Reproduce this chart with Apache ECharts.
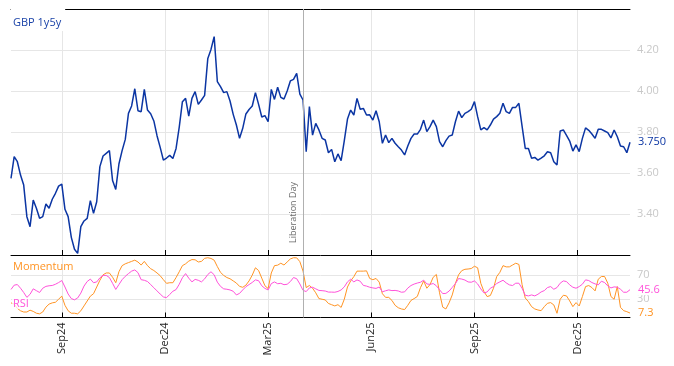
<!DOCTYPE html>
<html><head><meta charset="utf-8">
<script src="https://cdn.jsdelivr.net/npm/echarts@6/dist/echarts.min.js"></script>
<style>html,body{margin:0;padding:0;background:#fff}#c{width:674px;height:366px}</style>
</head><body><div id="c"></div>
<script>
// ---- data ----
const startDate = '2024-07-18';      // first business day plotted
const sampleStep = 2;                // business days between readings
const seriesName = 'GBP 1y5y';
const gbp1y5y = [3.574,3.680,3.655,3.590,3.541,3.387,3.338,3.468,3.428,3.379,
 3.387,3.449,3.428,3.472,3.501,3.536,3.546,3.423,3.387,3.286,
 3.228,3.208,3.338,3.366,3.379,3.465,3.403,3.460,3.631,3.683,
 3.696,3.709,3.563,3.520,3.644,3.709,3.764,3.891,3.927,4.011,
 3.904,3.899,4.008,3.907,3.889,3.854,3.782,3.725,3.663,3.673,
 3.686,3.671,3.720,3.824,3.948,3.964,3.878,3.964,3.997,3.935,
 3.956,3.979,4.159,4.203,4.265,4.046,4.021,3.992,3.997,3.951,
 3.886,3.834,3.769,3.818,3.888,3.910,3.927,3.992,3.935,3.873,
 3.880,3.850,4.008,3.959,4.018,3.969,3.961,4.000,4.049,4.057,
 4.086,3.985,3.956,3.704,3.924,3.785,3.842,3.810,3.769,3.761,
 3.699,3.715,3.655,3.693,3.660,3.758,3.863,3.907,3.883,3.964,
 3.911,3.915,3.883,3.884,3.858,3.904,3.850,3.745,3.785,3.748,
 3.769,3.745,3.728,3.712,3.688,3.732,3.769,3.790,3.790,3.813,
 3.858,3.802,3.826,3.858,3.826,3.753,3.728,3.758,3.780,3.785,
 3.850,3.902,3.870,3.891,3.899,3.911,3.948,3.875,3.810,3.821,
 3.810,3.834,3.863,3.875,3.891,3.940,3.899,3.891,3.920,3.920,
 3.940,3.829,3.720,3.720,3.672,3.676,3.663,3.673,3.684,3.704,
 3.699,3.655,3.639,3.805,3.810,3.784,3.756,3.707,3.737,3.704,
 3.769,3.820,3.808,3.790,3.769,3.813,3.813,3.805,3.797,3.771,
 3.810,3.777,3.732,3.728,3.699,3.750];
const momentum = [24,22,15,11,9,9,12,10,7,6,
 9,17,22,24,25,30,35,20,11,7,
 7,6,11,19,27,35,39,50,61,70,
 73,73,66,57,75,85,88,90,92,94,
 91,86,92,85,80,77,73,68.5,62,56,
 57,57,65.5,75,85,88,92.4,95,94.6,91,
 92,97,98,96.8,94,83.5,74,69,65.5,63.5,
 60,56.5,51,49.5,53,60,69.5,81.5,77,64.5,
 52,47.5,73,85,85.8,89,86,91,96,98,
 97.8,91.5,76,49,52.5,48,40.5,31,29.9,28.8,
 23,21,19,21,16.5,30,50,60,67,76,
 76,76,76.5,64,62,64,58,39,33,33,
 28,20,16,14,13,20,28,31,34.5,49,
 60,48,54,66,70.5,40.5,17,14,24,37,
 56,70,76.8,79,79.5,80.3,84,81.5,56,42.5,
 34.3,36,48,67,74,85,83,83,86,89,
 87,54,32,26,17.8,14,12.3,11.2,17.8,23.3,
 24.4,20.6,6.9,29.9,36.5,35.4,27.2,17.8,24.4,18.9,
 34.3,50.7,52.4,49.1,43.6,62.8,67.2,67.2,56.2,34.3,
 29.9,50.7,16.7,11.2,9.6,7.3];
const rsi = [46,53,54,48,41,33,38,47,44,41,
 48,51,52,52.5,54.5,57.3,60.6,50,38.5,31,
 29,32,40,51.5,59,63,57,58.3,65,69,
 69,65.5,56,46,54,62,67.5,72,76,78,
 73.5,62,61,59,54,48.8,43.6,38.4,33.7,32.6,
 37.8,43,45.8,54.5,65.2,72,64.5,58.4,62.5,61,
 58.4,63.3,70.5,75,70,58,51,47,46.3,45.2,
 43,37,39.5,45.2,50.5,54,57.5,61.7,60.3,52,
 47.7,45.2,55.6,58.3,55.4,56,53.8,54.5,58.9,65.5,
 63.6,55,44.5,42.5,48.5,49.6,47,44.4,44,43.4,
 41.7,41.6,41.4,42.7,45.2,50.2,58.4,62.8,58.4,61.6,
 59.5,52.6,51.5,49.6,48.5,47.7,50,42.2,43.8,45.2,
 44.1,44.4,43.5,41.4,42,48.2,52.4,54.8,56.5,57.8,
 61.2,55,54.3,55.7,52,45.5,39.2,39.5,43.3,49.3,
 55.6,63.9,63,61.4,58.3,57.8,60,55,46.9,40.3,
 41.9,48,50.7,55.7,58.4,61.1,56.7,53.5,52.4,56.2,
 56.2,48,36.5,35.4,37,35.4,38.1,41.9,44.1,49.1,
 50.7,46.3,49.1,56.2,60,58.9,53.5,49.6,48,50.7,
 54.6,61.7,60.6,57.3,55.1,53.5,59.5,57.3,51.8,48.5,
 50.2,49.6,46.3,41.4,41.4,45.6];
const quarterMonths = ['Mar','Jun','Sep','Dec'];
const oscTicks = [30, 70];
const eventDate = '2025-04-02';
const eventLabel = 'Liberation Day';

// ---- helpers ----
const MON = ['Jan','Feb','Mar','Apr','May','Jun','Jul','Aug','Sep','Oct','Nov','Dec'];
function businessDays(start, n) {
  const out = []; const d = new Date(start + 'T00:00:00Z');
  while (out.length < n) {
    const wd = d.getUTCDay();
    if (wd !== 0 && wd !== 6) out.push(d.toISOString().slice(0, 10));
    d.setUTCDate(d.getUTCDate() + 1);
  }
  return out;
}
const days = businessDays(startDate, (gbp1y5y.length - 1) * sampleStep + 1);
const tickIdx = [];
for (let k = 1; k < days.length; k++) {
  const m = +days[k].slice(5, 7) - 1, pm = +days[k - 1].slice(5, 7) - 1;
  if (m !== pm && quarterMonths.indexOf(MON[m]) >= 0) tickIdx.push(k);
}
const eventIdx = days.indexOf(eventDate);
const toPairs = arr => arr.map((v, i) => [i * sampleStep, v]);
const FONT = '"Open Sans", "Noto Sans", sans-serif';
const BLUE = '#0b35a3', ORANGE = '#ff9424', PINK = '#ff52da', GRID = '#e6e6e6', AXG = '#c8c8c8';

const xBase = extra => Object.assign({
  type: 'value', min: 0, max: days.length - 1,
  axisLine: { show: true, onZero: false, lineStyle: { color: '#000', width: 1 } },
  axisTick: { show: true, inside: true, length: 5, customValues: tickIdx, lineStyle: { color: '#000' } },
  axisLabel: { show: false },
  splitLine: { show: true, lineStyle: { color: GRID, width: 1 } }
}, extra);

const chart = echarts.init(document.getElementById('c'), null, { renderer: 'canvas' });
chart.setOption({
  animation: false,
  backgroundColor: '#fff',
  grid: [
    { left: 11, right: 44, top: 9, height: 246 },
    { left: 11, right: 44, top: 256.5, height: 61 }
  ],
  xAxis: [
    xBase({ gridIndex: 0, position: 'bottom' }),
    { type: 'value', gridIndex: 0, position: 'top', min: 0, max: days.length - 1,
      axisLine: { show: true, lineStyle: { color: '#000' } }, axisTick: { show: false },
      axisLabel: { show: false }, splitLine: { show: false } },
    xBase({ gridIndex: 1, position: 'bottom',
      axisLabel: { show: true, customValues: tickIdx, rotate: 90, margin: 5, color: '#222',
        fontSize: 11, fontFamily: FONT,
        formatter: v => { const d = days[Math.round(v)]; return MON[+d.slice(5, 7) - 1] + d.slice(2, 4); } } })
  ],
  yAxis: [
    { type: 'value', gridIndex: 0, position: 'right', min: 3.2, max: 4.4, interval: 0.2,
      axisLine: { show: false }, axisTick: { show: false },
      axisLabel: { color: AXG, fontSize: 11, fontFamily: FONT, margin: 7, showMinLabel: false, showMaxLabel: false,
        formatter: v => v.toFixed(2) },
      splitLine: { show: true, lineStyle: { color: GRID } } },
    { type: 'value', gridIndex: 1, position: 'right', min: 0, max: 100,
      axisLine: { show: false }, axisTick: { show: false, customValues: oscTicks },
      axisLabel: { customValues: oscTicks, color: AXG, fontSize: 11, fontFamily: FONT, margin: 7 },
      splitLine: { show: true, lineStyle: { color: GRID } } }
  ],
  graphic: [
    { type: 'text', z: 100, left: 11, top: 9,
      style: { text: seriesName, fill: '#1b43a8', font: '11px ' + FONT, backgroundColor: '#fff', padding: [8, 4, 3, 2] } },
    { type: 'text', z: 100, left: 13, top: 261,
      style: { text: 'Momentum', fill: ORANGE, font: '11px ' + FONT } },
    { type: 'text', z: 100, left: 12, top: 298,
      style: { text: 'RSI', fill: PINK, font: '11px ' + FONT, backgroundColor: 'rgba(255,255,255,0.75)', padding: [0, 1, 0, 1] } }
  ],
  series: [
    { name: seriesName, type: 'line', xAxisIndex: 0, yAxisIndex: 0, data: toPairs(gbp1y5y),
      showSymbol: false, symbol: 'none', color: BLUE, lineStyle: { width: 1.5, color: BLUE },
      endLabel: { show: true, formatter: p => p.value[1].toFixed(3), color: BLUE, fontSize: 11, fontFamily: FONT,
        backgroundColor: '#fff', distance: 7, padding: [1, 1] },
      markLine: { symbol: ['none', 'none'], silent: true, animation: false,
        lineStyle: { color: '#b0b0b0', type: 'solid', width: 1 },
        label: { show: true, position: 'insideStartTop', formatter: eventLabel, color: '#6a6a6a', fontSize: 9,
          fontFamily: FONT, distance: [12, 5] },
        emphasis: { disabled: true },
        data: [{ xAxis: eventIdx }] } },
    { name: 'Momentum', type: 'line', xAxisIndex: 2, yAxisIndex: 1, data: toPairs(momentum),
      showSymbol: false, symbol: 'none', color: ORANGE, lineStyle: { width: 1, color: ORANGE },
      endLabel: { show: true, formatter: p => p.value[1].toFixed(1), color: ORANGE, fontSize: 11, fontFamily: FONT,
        backgroundColor: '#fff', distance: 7, padding: [0, 1] } },
    { name: 'RSI', type: 'line', xAxisIndex: 2, yAxisIndex: 1, data: toPairs(rsi),
      showSymbol: false, symbol: 'none', color: PINK, lineStyle: { width: 1, color: PINK },
      endLabel: { show: true, formatter: p => p.value[1].toFixed(1), color: PINK, fontSize: 11, fontFamily: FONT,
        backgroundColor: '#fff', distance: 7, padding: [0, 1] },
      markLine: { symbol: ['none', 'none'], silent: true, animation: false,
        lineStyle: { color: '#b0b0b0', type: 'solid', width: 1 }, label: { show: false },
        emphasis: { disabled: true },
        data: [{ xAxis: eventIdx }] } }
  ]
});
</script></body></html>
